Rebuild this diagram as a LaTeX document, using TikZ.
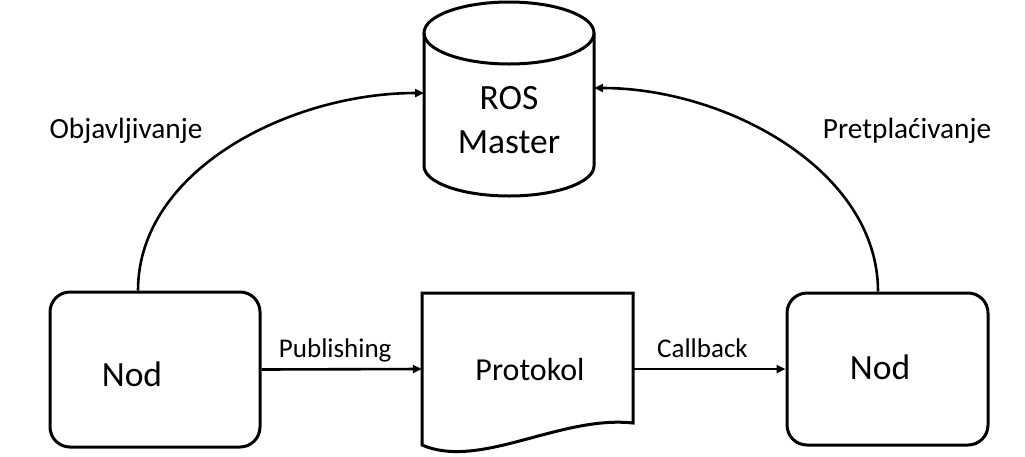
\documentclass[tikz,border=0pt]{standalone}
\usepackage{fontspec}
\setmainfont{Carlito}
\usetikzlibrary{arrows.meta,calc}
\begin{document}
\begin{tikzpicture}[x=1pt,y=-1pt,
  shapeline/.style={line width=3pt},
  conn/.style={line width=2.6pt,-{Triangle[length=9pt,width=8pt]}},
  nodebox/.style={shapeline,draw,rounded corners=20pt,inner sep=0pt},
  bigtext/.style={font=\fontsize{35.5}{42}\selectfont},
  midtext/.style={font=\fontsize{32}{38}\selectfont},
  smalltext/.style={font=\fontsize{27}{32}\selectfont},
  toptext/.style={font=\fontsize{29.3}{34}\selectfont}]
\useasboundingbox (0,0) rectangle (1025,456);

% ROS Master: cylinder
\draw[shapeline] (509,33) ellipse [x radius=85pt, y radius=31pt];
\draw[shapeline] (424,33) -- (424,166)
  arc[start angle=180, end angle=360, x radius=85pt, y radius=30pt] -- (594,33);
\node[bigtext, align=center, inner sep=0pt, minimum width=170pt, minimum height=194pt] (master) at (509,120) {ROS\\[2pt]Master};
\coordinate (mIn) at (424,93);
\coordinate (mOut) at (594,88);

% Protokol: document shape
\draw[shapeline, line join=miter] (422,445) -- (422,293) -- (633,293) -- (633,423)
  .. controls (560,415) and (480,470) .. (422,445) -- cycle;
\node[midtext, inner sep=0pt, minimum width=211pt, minimum height=152pt] (proto) at (527.5,369) {\hspace*{5pt}Protokol};

% the two nodes
\node[nodebox, minimum width=210pt, minimum height=155pt,
  label={[bigtext, xshift=-23pt, yshift=-5pt]center:Nod}] (n1) at (155,369.5) {};
\node[nodebox, minimum width=201pt, minimum height=152pt,
  label={[bigtext, xshift=-7.5pt, yshift=2pt]center:Nod}] (n2) at (887.5,369) {};

% horizontal connectors
\draw[conn] (n1.east) -- node[smalltext, pos=0.46, anchor=base, yshift=12pt] (pub) {Publishing} (proto.west);
\draw[conn] (proto.east) -- node[smalltext, pos=0.455, anchor=base, yshift=12pt] (cb) {Callback} (n2.west);

% curved connectors to the master
\draw[conn] ($(n1.north)+(-17,0)$) .. controls (138,170) and (290,93) .. (mIn);
\draw[conn] ($(n2.north)+(-9.5,0)$) .. controls (878,170) and (726,88) .. (mOut);

\node[toptext, anchor=base] (obj) at (126,138) {Objavljivanje};
\node[toptext, anchor=base] (pret) at (907,138) {Pretplaćivanje};
\end{tikzpicture}
\end{document}
